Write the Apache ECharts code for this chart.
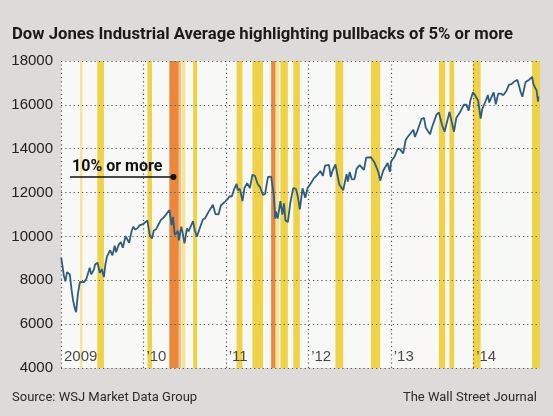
<!DOCTYPE html>
<html>
<head>
<meta charset="utf-8">
<script src="https://cdn.jsdelivr.net/npm/echarts@6/dist/echarts.min.js"></script>
<style>
html, body { margin: 0; padding: 0; background: #dcdbd9; }
#chart { width: 553px; height: 416px; }
</style>
</head>
<body>
<div id="chart"></div>
<script>
var FONT = "Roboto, 'Liberation Sans', sans-serif";
var NUM_FONT = "'Liberation Sans', Roboto, sans-serif";

// DJIA closes (roughly twice a month plus turning points)
var closeDates = [
  '2009-01-02','2009-01-06','2009-01-14','2009-01-20','2009-01-28','2009-02-09','2009-02-17','2009-02-23',
  '2009-03-02','2009-03-09','2009-03-17','2009-03-26','2009-04-02','2009-04-14','2009-04-24','2009-05-04',
  '2009-05-08','2009-05-15','2009-05-26','2009-06-01','2009-06-12','2009-06-22','2009-07-01','2009-07-10',
  '2009-07-17','2009-07-24','2009-08-07','2009-08-17','2009-08-27','2009-09-02','2009-09-14','2009-09-23',
  '2009-10-02','2009-10-14','2009-10-19','2009-10-30','2009-11-10','2009-11-17','2009-11-27','2009-12-07',
  '2009-12-14','2009-12-28',
  '2010-01-04','2010-01-19','2010-01-29','2010-02-08','2010-02-16','2010-02-26','2010-03-10','2010-03-19',
  '2010-03-31','2010-04-13','2010-04-26','2010-05-06','2010-05-12','2010-05-20','2010-05-25','2010-06-03',
  '2010-06-07','2010-06-18','2010-06-24','2010-07-02','2010-07-13','2010-07-20','2010-08-09','2010-08-16',
  '2010-08-26','2010-09-08','2010-09-21','2010-10-01','2010-10-18','2010-11-05','2010-11-16','2010-11-30',
  '2010-12-10','2010-12-29',
  '2011-01-07','2011-01-18','2011-01-28','2011-02-07','2011-02-18','2011-02-23','2011-03-04','2011-03-16',
  '2011-03-25','2011-04-06','2011-04-18','2011-04-29','2011-05-10','2011-05-23','2011-06-02','2011-06-15',
  '2011-06-24','2011-07-07','2011-07-21','2011-08-02','2011-08-08','2011-08-11','2011-08-19','2011-08-31',
  '2011-09-09','2011-09-16','2011-09-22','2011-10-03','2011-10-13','2011-10-27','2011-11-08','2011-11-17',
  '2011-11-25','2011-12-07','2011-12-19','2011-12-30',
  '2012-01-13','2012-01-27','2012-02-10','2012-02-24','2012-03-06','2012-03-16','2012-04-02','2012-04-10',
  '2012-04-19','2012-05-01','2012-05-09','2012-05-18','2012-05-25','2012-06-04','2012-06-19','2012-06-25',
  '2012-07-03','2012-07-12','2012-07-24','2012-08-03','2012-08-16','2012-09-04','2012-09-14','2012-10-05',
  '2012-10-22','2012-11-07','2012-11-15','2012-11-29','2012-12-07','2012-12-18','2012-12-28',
  '2013-01-02','2013-01-18','2013-02-01','2013-02-11','2013-02-25','2013-03-08','2013-03-15','2013-04-11',
  '2013-04-18','2013-04-29','2013-05-17','2013-05-28','2013-06-05','2013-06-24','2013-07-03','2013-07-22',
  '2013-08-02','2013-08-16','2013-08-27','2013-09-03','2013-09-18','2013-09-27','2013-10-08','2013-10-18',
  '2013-11-01','2013-11-21','2013-12-02','2013-12-12','2013-12-20','2013-12-31',
  '2014-01-08','2014-01-23','2014-02-03','2014-02-10','2014-02-26','2014-03-07','2014-03-13','2014-03-21',
  '2014-04-02','2014-04-11','2014-04-22','2014-05-02','2014-05-15','2014-05-28','2014-06-09','2014-06-20',
  '2014-07-03','2014-07-16','2014-07-24','2014-07-31','2014-08-07','2014-08-21','2014-09-05','2014-09-19',
  '2014-09-25','2014-10-01','2014-10-09','2014-10-13','2014-10-15','2014-10-17'
];
var closeValues = [
  9034, 9015, 8200, 7949, 8375, 8270, 7553, 7114,
  6764, 6547, 7395, 7924, 7978, 7920, 8076, 8426,
  8575, 8268, 8473, 8721, 8799, 8340, 8504, 8146,
  8743, 9093, 9370, 9135, 9580, 9280, 9626, 9749,
  9487, 10015, 10092, 9713, 10246, 10437, 10310, 10390,
  10501, 10547,
  10583, 10725, 10067, 9908, 10268, 10325, 10567, 10742,
  10857, 11019, 11205, 10520, 10896, 10068, 10043, 10255,
  9816, 10450, 10152, 9686, 10364, 10230, 10698, 10302,
  9985, 10387, 10761, 10829, 11143, 11444, 11023, 11006,
  11410, 11585,
  11675, 11837, 11823, 12161, 12391, 12106, 12170, 11613,
  12220, 12426, 12201, 12811, 12760, 12381, 12248, 11897,
  11934, 12719, 12724, 11867, 10810, 11143, 10817, 11614,
  11000, 11510, 10733, 10655, 11478, 12209, 12170, 11770,
  11231, 12196, 11766, 12218,
  12422, 12660, 12801, 12983, 12760, 13233, 13264, 12716,
  13030, 13279, 12835, 12369, 12454, 12101, 12837, 12502,
  12943, 12604, 12617, 13096, 13250, 13035, 13593, 13610,
  13345, 12932, 12542, 13021, 13155, 13350, 12938,
  13412, 13649, 14009, 13971, 13784, 14397, 14514, 14865,
  14537, 14819, 15354, 15409, 14960, 14660, 14988, 15545,
  15658, 15081, 14776, 14834, 15676, 15258, 14776, 15399,
  15615, 16009, 16008, 15739, 16221, 16577,
  16462, 16197, 15373, 15801, 16198, 16452, 16108, 16302,
  16573, 16027, 16514, 16512, 16446, 16633, 16924, 16947,
  17068, 17138, 17083, 16563, 16368, 17039, 17137, 17280,
  16946, 16804, 16659, 16321, 16141, 16380
];

// pullback bands: start, end, kind
var bandStarts = ['2009-03-26','2009-06-11','2010-01-19','2010-04-26','2010-06-07','2010-06-21','2010-08-09',
  '2011-02-18','2011-04-29','2011-07-21','2011-08-10','2011-08-31','2011-10-27','2012-05-01','2012-10-05',
  '2013-08-02','2013-09-18','2013-12-31','2014-09-19'];
var bandEnds = ['2009-04-06','2009-07-10','2010-02-08','2010-06-07','2010-06-18','2010-07-06','2010-08-27',
  '2011-03-16','2011-06-15','2011-08-10','2011-08-25','2011-10-03','2011-11-25','2012-06-04','2012-11-15',
  '2013-08-30','2013-10-09','2014-02-03','2014-10-24'];
var bandKinds = ['pale','yellow','yellow','orange','paleOrange','pale','yellow',
  'yellow','yellow','orange','pale','yellow','yellow','yellow','yellow',
  'yellow','yellow','yellow','yellow'];
var bandColors = { yellow: '#efd246', pale: '#f6e49c', orange: '#e9873a', paleOrange: '#f2c27e' };

var yearStarts = ['2009-01-01','2010-01-01','2011-01-01','2012-01-01','2013-01-01','2014-01-01'];
var yearLabels = ['2009', '\u201910', '\u201911', '\u201912', '\u201913', '\u201914'];

var yMin = 4000, yMax = 18000, yStep = 2000;
var xMin = '2009-01-01', xMax = '2014-10-24';

var noteText = '10% or more';
var noteFrom = ['2009-02-10', 12710];
var noteTo = ['2010-05-14', 12710];

var chart = echarts.init(document.getElementById('chart'));

var bands = bandStarts.map(function (s, i) {
  return [{ xAxis: s, itemStyle: { color: bandColors[bandKinds[i]] } }, { xAxis: bandEnds[i] }];
});

var option = {
  backgroundColor: '#dcdbd9',
  animation: false,
  title: [{
    text: 'Dow Jones Industrial Average highlighting pullbacks of 5% or more',
    left: 7, top: 21,
    textStyle: { fontFamily: FONT, fontSize: 16.7, fontWeight: 'bold', color: '#1a1a1a' }
  }, {
    text: 'Source: WSJ Market Data Group',
    left: 7, top: 386,
    textStyle: { fontFamily: FONT, fontSize: 13, fontWeight: 'normal', color: '#2a2a2a' }
  }, {
    text: 'The Wall Street Journal',
    right: 11, top: 386,
    textStyle: { fontFamily: FONT, fontSize: 13, fontWeight: 'normal', color: '#2a2a2a' }
  }],
  grid: {
    left: 61, right: 13, top: 61, bottom: 48,
    show: true, backgroundColor: '#f8f8f6', borderWidth: 0
  },
  xAxis: {
    type: 'time', min: xMin, max: xMax,
    axisLine: { show: false }, axisTick: { show: false },
    axisLabel: { show: false }, splitLine: { show: false }
  },
  yAxis: {
    type: 'value', min: yMin, max: yMax, interval: yStep, z: 3,
    axisLine: { show: false }, axisTick: { show: false },
    axisLabel: {
      margin: 8, fontFamily: NUM_FONT, fontSize: 15, color: '#222',
      formatter: function (v) { return String(v); }
    },
    splitLine: { lineStyle: { color: '#555', width: 1.2, type: [1.2, 3] } }
  },
  series: [{
    name: 'bands', type: 'line', data: [], z: 1, silent: true,
    markArea: { silent: true, data: bands }
  }, {
    name: 'years', type: 'scatter', z: 3, silent: true,
    data: yearStarts.map(function (d) { return [d, yMin]; }),
    symbolSize: 0,
    label: {
      show: true, position: 'right', distance: 3, offset: [0, -11],
      fontFamily: NUM_FONT, fontSize: 15, color: '#1a1a1a',
      formatter: function (p) { return yearLabels[p.dataIndex]; }
    },
    markLine: {
      silent: true, symbol: 'none', label: { show: false },
      lineStyle: { color: '#555', width: 1.2, type: [1.2, 3] },
      data: yearStarts.map(function (d) { return { xAxis: d }; })
    }
  }, {
    name: 'DJIA', type: 'line', z: 5,
    data: closeDates.map(function (d, i) { return [d, closeValues[i]]; }),
    showSymbol: false,
    lineStyle: { color: '#2e5d80', width: 1.8 },
    markLine: {
      silent: true, symbol: ['none', 'circle'], symbolSize: 6,
      lineStyle: { color: '#111', width: 1.5, type: 'solid' },
      label: {
        show: true, position: 'insideStartTop', distance: 2,
        formatter: noteText,
        fontFamily: FONT, fontSize: 16, fontWeight: 'bold', color: '#111'
      },
      data: [[{ coord: noteFrom }, { coord: noteTo }]]
    }
  }]
};

chart.setOption(option);
</script>
</body>
</html>
